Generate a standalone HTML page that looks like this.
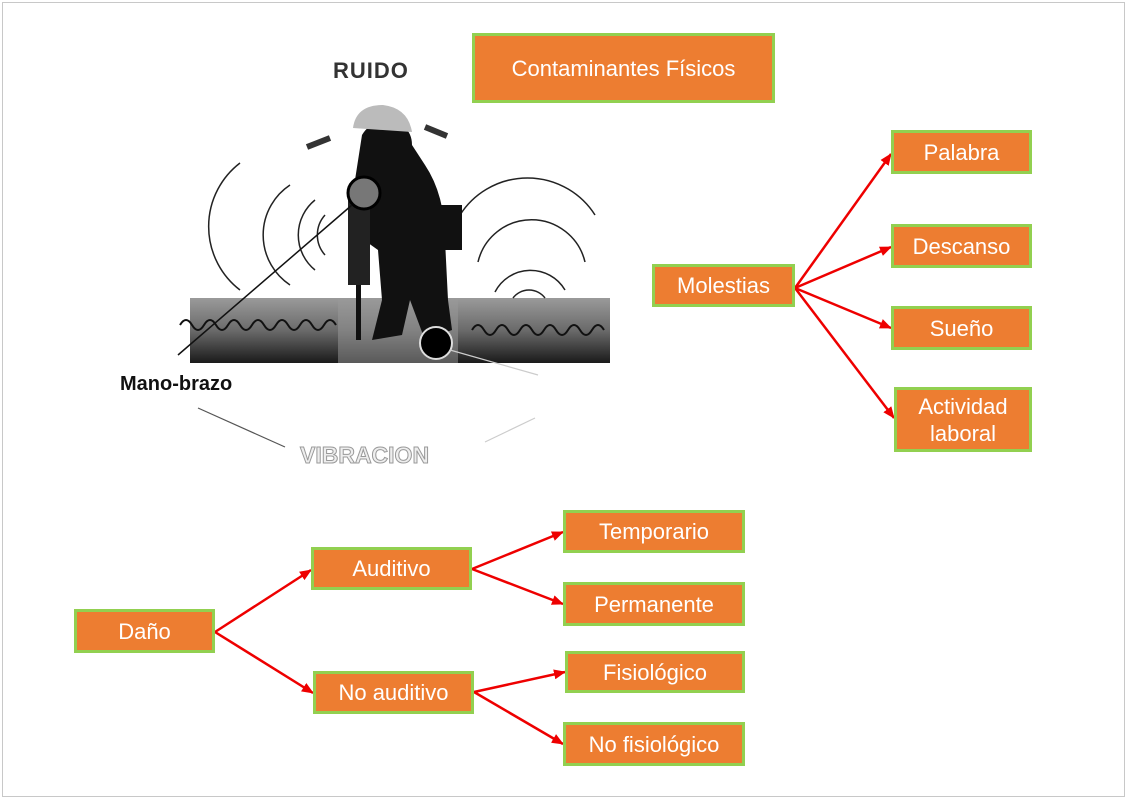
<!DOCTYPE html>
<html><head><meta charset="utf-8"><style>
html,body{margin:0;padding:0;background:#fff;}
body{width:1128px;height:800px;position:relative;overflow:hidden;font-family:"Liberation Sans",sans-serif;}
.frame{position:absolute;left:2px;top:2px;width:1121px;height:793px;border:1px solid #c8c8c8;}
.b{position:absolute;box-sizing:border-box;background:#ED7D31;border:3px solid #92D050;color:#fff;font-size:22px;display:flex;align-items:center;justify-content:center;text-align:center;line-height:27px;}
svg{position:absolute;left:0;top:0;}
</style></head><body>
<div class="frame"></div>
<svg width="1128" height="800">
<defs>
<marker id="ar" markerWidth="12" markerHeight="12" refX="11" refY="6" orient="auto" markerUnits="userSpaceOnUse"><path d="M0,1 L12,6 L0,11 Z" fill="#e00"/></marker>
<linearGradient id="g" x1="0" y1="0" x2="0" y2="1"><stop offset="0" stop-color="#9a9a9a"/><stop offset="0.5" stop-color="#6a6a6a"/><stop offset="1" stop-color="#1a1a1a"/></linearGradient>
</defs>
<rect x="190" y="298" width="420" height="65" fill="url(#g)"/>
<rect x="338" y="298" width="120" height="65" fill="#999" opacity="0.5"/>
<path d="M180,325 q6,-10 12,0 t12,0 t12,0 t12,0 t12,0 t12,0 t12,0 t12,0 t12,0 t12,0 t12,0 t12,0 t12,0" stroke="#111" stroke-width="2" fill="none"/>
<path d="M472,330 q6,-10 12,0 t12,0 t12,0 t12,0 t12,0 t12,0 t12,0 t12,0 t12,0 t12,0 t12,0" stroke="#111" stroke-width="2" fill="none"/>
<g stroke="#222" stroke-width="1.5" fill="none">
<path d="M240,163 A80,80 0 0 0 240,290"/>
<path d="M290,185 A60,60 0 0 0 290,285"/>
<path d="M315,200 A45,45 0 0 0 315,270"/>
<path d="M325,215 A30,30 0 0 0 325,255"/>
<path d="M460,215 A80,80 0 0 1 595,215"/>
<path d="M478,262 A55,55 0 0 1 585,262"/>
<path d="M495,292 A40,40 0 0 1 565,290"/>
<path d="M513,298 A20,20 0 0 1 545,298"/>
</g>
<path d="M362,135 Q372,118 395,122 Q412,128 412,145 L425,165 Q445,195 445,240 L448,300 L452,330 L425,340 L410,300 L402,335 L372,340 L382,300 L378,250 L364,240 L355,180 Z" fill="#111"/>
<path d="M353,128 Q356,105 383,105 Q408,108 412,132 Z" fill="#bbb"/>
<rect x="438" y="205" width="24" height="45" fill="#111"/>
<rect x="348" y="195" width="22" height="90" fill="#222"/>
<rect x="356" y="285" width="5" height="55" fill="#111"/>
<circle cx="364" cy="193" r="16" stroke="#000" stroke-width="3" fill="#777"/>
<circle cx="436" cy="343" r="16" stroke="#ddd" stroke-width="2" fill="#000"/>
<path d="M307,147 L330,138" stroke="#333" stroke-width="6"/>
<path d="M447,136 L425,127" stroke="#333" stroke-width="6"/>
<line x1="178" y1="355" x2="352" y2="205" stroke="#111" stroke-width="1.5"/>
<line x1="198" y1="408" x2="285" y2="447" stroke="#555" stroke-width="1.2"/>
<line x1="485" y1="442" x2="535" y2="418" stroke="#ccc" stroke-width="1.2"/>
<line x1="450" y1="350" x2="538" y2="375" stroke="#ccc" stroke-width="1.2"/>
<text x="333" y="78" font-family="Liberation Sans" font-weight="bold" font-size="22" letter-spacing="1" fill="#333">RUIDO</text>
<text x="120" y="390" font-family="Liberation Sans" font-weight="bold" font-size="20" fill="#111">Mano-brazo</text>
<text x="300" y="463" font-family="Liberation Sans" font-weight="bold" font-size="23" fill="#eee" stroke="#999" stroke-width="1">VIBRACION</text>
<g stroke="#e00" stroke-width="2.5" fill="none" marker-end="url(#ar)">
<line x1="795" y1="288" x2="891" y2="154"/>
<line x1="795" y1="288" x2="891" y2="247"/>
<line x1="795" y1="288" x2="891" y2="328"/>
<line x1="795" y1="288" x2="894" y2="418"/>
<line x1="215" y1="632" x2="311" y2="570"/>
<line x1="215" y1="632" x2="313" y2="693"/>
<line x1="472" y1="569" x2="563" y2="532"/>
<line x1="472" y1="569" x2="563" y2="604"/>
<line x1="474" y1="692" x2="565" y2="672"/>
<line x1="474" y1="692" x2="563" y2="744"/>
</g>
</svg>
<div class="b" style="left:472px;top:33px;width:303px;height:70px;">Contaminantes Físicos</div>
<div class="b" style="left:891px;top:130px;width:141px;height:44px;">Palabra</div>
<div class="b" style="left:891px;top:224px;width:141px;height:44px;">Descanso</div>
<div class="b" style="left:652px;top:264px;width:143px;height:43px;">Molestias</div>
<div class="b" style="left:891px;top:306px;width:141px;height:44px;">Sueño</div>
<div class="b" style="left:894px;top:387px;width:138px;height:65px;">Actividad<br>laboral</div>
<div class="b" style="left:74px;top:609px;width:141px;height:44px;">Daño</div>
<div class="b" style="left:311px;top:547px;width:161px;height:43px;">Auditivo</div>
<div class="b" style="left:313px;top:671px;width:161px;height:43px;">No auditivo</div>
<div class="b" style="left:563px;top:510px;width:182px;height:43px;">Temporario</div>
<div class="b" style="left:563px;top:582px;width:182px;height:44px;">Permanente</div>
<div class="b" style="left:565px;top:651px;width:180px;height:42px;">Fisiológico</div>
<div class="b" style="left:563px;top:722px;width:182px;height:44px;">No fisiológico</div>
</body></html>
